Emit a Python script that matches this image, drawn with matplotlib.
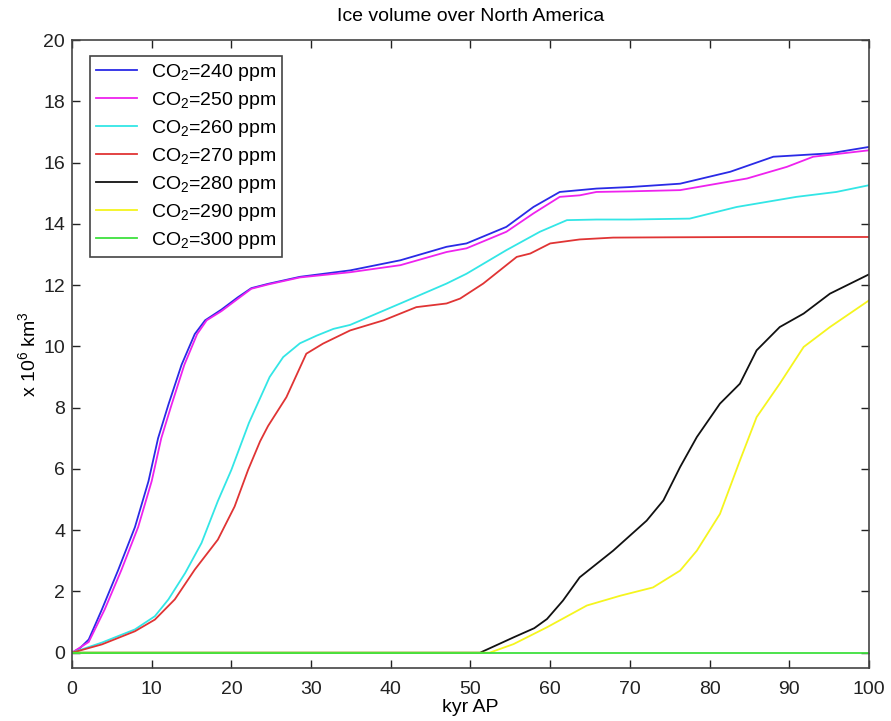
import matplotlib as mpl
mpl.use('agg')
import matplotlib.pyplot as plt

plt.rcParams['font.family'] = ['Liberation Sans', 'DejaVu Sans']
plt.rcParams['mathtext.fontset'] = 'custom'
plt.rcParams['mathtext.rm'] = 'Liberation Sans'
plt.rcParams['mathtext.it'] = 'Liberation Sans'
plt.rcParams['mathtext.default'] = 'regular'

# ice volume (x 10^6 km^3) vs time (kyr AP) for each CO2 level
x240 = [0, 1, 2.1, 3.75, 5.8, 7.9, 9.6, 10.8, 12.1, 13.75, 15.4, 16.7, 18.75, 20.8, 22.5, 24.6,
        28.6, 34.9, 41.2, 47.0, 49.5, 54.5, 57.9, 61.2, 63.7, 65.8, 70, 76.3, 82.6, 88.0, 95.1, 100]
y240 = [0, 0.15, 0.43, 1.41, 2.7, 4.1, 5.6, 7.0, 8.1, 9.4, 10.4, 10.85, 11.2, 11.6, 11.9, 12.04,
        12.27, 12.48, 12.81, 13.25, 13.36, 13.9, 14.55, 15.04, 15.1, 15.15, 15.2, 15.31, 15.7, 16.19, 16.3, 16.51]

x250 = [0, 2.1, 4.1, 6.2, 8.3, 10.0, 11.2, 12.5, 14.1, 15.7, 16.9, 18.75, 20.8, 22.5, 24.6, 28.6,
        34.9, 41.2, 47.0, 49.5, 54.5, 57.9, 61.2, 63.7, 65.8, 70, 76.3, 84.7, 89.7, 93.0, 100]
y250 = [0, 0.35, 1.41, 2.7, 4.1, 5.6, 7.0, 8.1, 9.4, 10.4, 10.85, 11.15, 11.55, 11.88, 12.02, 12.25,
        12.42, 12.65, 13.08, 13.2, 13.74, 14.34, 14.88, 14.93, 15.04, 15.06, 15.1, 15.48, 15.86, 16.19, 16.4]

x260 = [0, 3.75, 7.9, 10.4, 12.1, 14.2, 16.25, 18.3, 20, 22.2, 24.8, 26.5, 28.6, 30.7, 32.8, 34.9,
        41.2, 47.0, 49.5, 54.5, 58.7, 62.1, 65.8, 70, 77.5, 83.4, 90.9, 95.9, 100]
y260 = [0, 0.33, 0.76, 1.19, 1.74, 2.6, 3.58, 4.95, 5.97, 7.5, 9.0, 9.65, 10.1, 10.35, 10.57, 10.7,
        11.4, 12.05, 12.37, 13.14, 13.74, 14.12, 14.14, 14.14, 14.17, 14.55, 14.88, 15.04, 15.26]

x270 = [0, 3.75, 7.9, 10.4, 12.9, 15.4, 18.3, 20.4, 22.1, 23.6, 24.6, 26.9, 29.4, 31.5, 34.9, 39.1,
        43.2, 47.0, 48.7, 51.6, 55.8, 57.5, 60.0, 63.7, 67.9, 75, 85, 100]
y270 = [0, 0.27, 0.70, 1.08, 1.74, 2.71, 3.69, 4.77, 5.97, 6.9, 7.4, 8.34, 9.76, 10.09, 10.52, 10.85,
        11.28, 11.4, 11.56, 12.05, 12.92, 13.03, 13.36, 13.49, 13.55, 13.56, 13.57, 13.57]

x280 = [0, 51.2, 55.4, 58.0, 59.6, 61.6, 63.7, 67.9, 72.1, 74.2, 76.3, 78.4, 81.3, 83.8, 85.9, 88.8,
        91.8, 95.1, 100]
y280 = [0, 0, 0.5, 0.8, 1.1, 1.7, 2.46, 3.33, 4.31, 4.97, 6.06, 7.04, 8.13, 8.78, 9.87, 10.63,
        11.07, 11.72, 12.35]

x290 = [0, 52.4, 55.4, 59.6, 64.6, 68.8, 72.9, 76.3, 78.4, 81.3, 83.8, 85.9, 88.8, 91.8, 95.1, 100]
y290 = [0, 0, 0.28, 0.83, 1.54, 1.86, 2.13, 2.68, 3.33, 4.53, 6.27, 7.69, 8.78, 9.98, 10.63, 11.5]

x300 = [0, 100]
y300 = [0, 0]

series = [
    (x240, y240, '#2a2ae6', 240),
    (x250, y250, '#ee22ee', 250),
    (x260, y260, '#33e6e6', 260),
    (x270, y270, '#e03434', 270),
    (x280, y280, '#111111', 280),
    (x290, y290, '#f5f51e', 290),
    (x300, y300, '#3ee03e', 300),
]

fig = plt.figure(figsize=(8.91, 7.21), dpi=100)
ax = fig.add_axes([0.0808, 0.0735, 0.8945, 0.871])

for xs, ys, c, ppm in series:
    ax.plot(xs, ys, color=c, lw=1.3, label='CO$_2$=%d ppm' % ppm)

ax.set_xlim(0, 100)
ax.set_ylim(-0.5, 20)
ax.set_xticks(range(0, 101, 10))
ax.set_yticks(range(0, 21, 2))
ax.tick_params(direction='in', top=True, right=True, length=6, width=1,
               labelsize=14, colors='#222222')
ax.tick_params(axis='x', pad=9)
ax.tick_params(axis='y', pad=5)
for s in ax.spines.values():
    s.set_color('#444444')
    s.set_linewidth(1.2)

ax.set_title('Ice volume over North America', fontsize=14, pad=14)
ax.set_xlabel('kyr AP', fontsize=14, labelpad=1)
ax.set_ylabel('x 10$^6$ km$^3$', fontsize=14, labelpad=3)

leg = ax.legend(loc='upper left', bbox_to_anchor=(0.011, 0.99), fontsize=14,
                handlelength=2.1, labelspacing=0.36, borderpad=0.3,
                handletextpad=0.7, fancybox=False, framealpha=1)
leg.get_frame().set_edgecolor('#444444')
leg.get_frame().set_linewidth(1.2)

fig.savefig('out.png', dpi=100)
plt.close(fig)
